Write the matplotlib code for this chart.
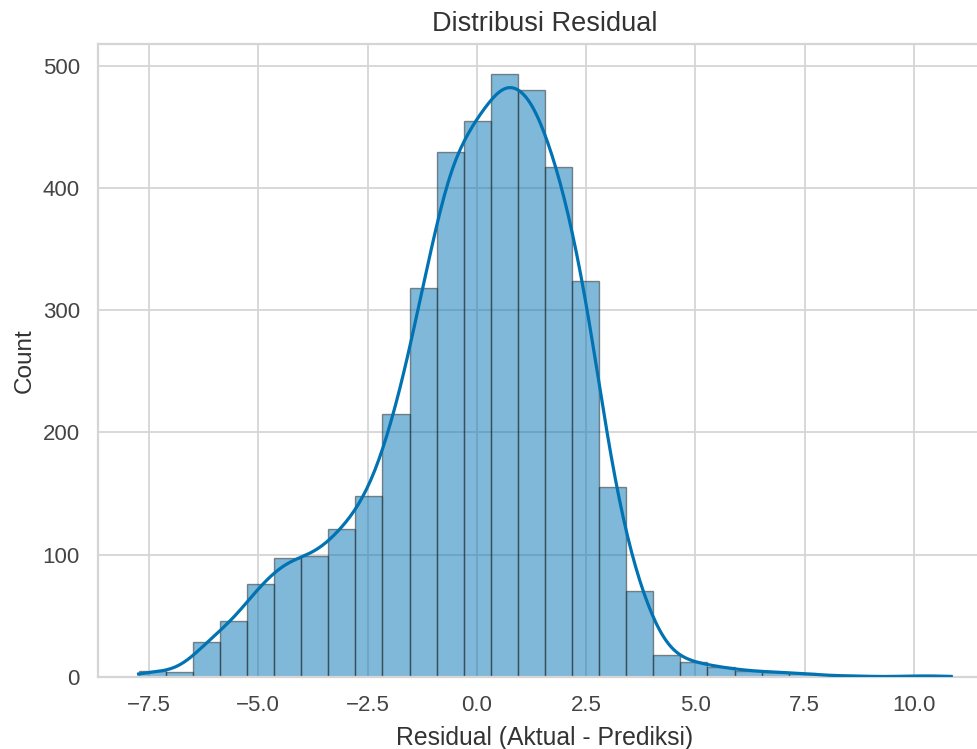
import numpy as np
import matplotlib
matplotlib.use("Agg")
import matplotlib.pyplot as plt

# histogram of residuals, 30 bins between the min and max residual
res_min = -7.735
res_max = 10.85
n_bins = 30
counts = [5, 4, 29, 46, 76, 97, 99, 121, 148, 215,
          318, 429, 455, 493, 480, 417, 324, 155, 70, 18,
          12, 8, 5, 4, 3, 1, 1, 0, 1, 1]
xticks = [-7.5, -5.0, -2.5, 0.0, 2.5, 5.0, 7.5, 10.0]
yticks = [0, 100, 200, 300, 400, 500]

blue = "#0173B2"
grey = "#d5d5d5"

plt.rcParams['font.family'] = ['Liberation Sans', 'DejaVu Sans']

fig = plt.figure(figsize=(9.78, 7.49), dpi=100)
ax = fig.add_axes([0.1002, 0.0961, 0.914, 0.8452])

edges = np.linspace(res_min, res_max, n_bins + 1)
centers = (edges[:-1] + edges[1:]) / 2
width = edges[1] - edges[0]
ax.hist(centers, bins=edges, weights=counts, color=blue, alpha=0.5,
        edgecolor="#222222", linewidth=1.0, zorder=2)

# kde from the binned counts, scaled to counts like seaborn does
cnt = np.asarray(counts, float)
bw = 0.44
grid = np.linspace(res_min, res_max, 400)
dens = (cnt[None, :] * np.exp(-0.5 * ((grid[:, None] - centers[None, :]) / bw) ** 2)).sum(1)
dens = dens / (cnt.sum() * bw * np.sqrt(2 * np.pi))
ax.plot(grid, dens * cnt.sum() * width, color=blue, linewidth=2.3, zorder=3)

ax.set_xticks(xticks)
ax.set_yticks(yticks)
ax.set_xlim(res_min - 0.05 * (res_max - res_min), res_max + 0.05 * (res_max - res_min))
ax.set_ylim(0, max(counts) * 1.05)

ax.grid(True, color=grey, linewidth=1.3, zorder=0)
ax.set_axisbelow(True)
for s in ax.spines.values():
    s.set_color(grey)
    s.set_linewidth(1.6)
ax.tick_params(length=0, pad=13, labelsize=16, labelcolor="#444444")

ax.set_title("Distribusi Residual", fontsize=19.5, color="#333333", pad=9)
ax.set_xlabel("Residual (Aktual - Prediksi)", fontsize=17.8, color="#333333", labelpad=7)
ax.set_ylabel("Count", fontsize=17.5, color="#333333", labelpad=5)

fig.savefig("out.png", dpi=100)
